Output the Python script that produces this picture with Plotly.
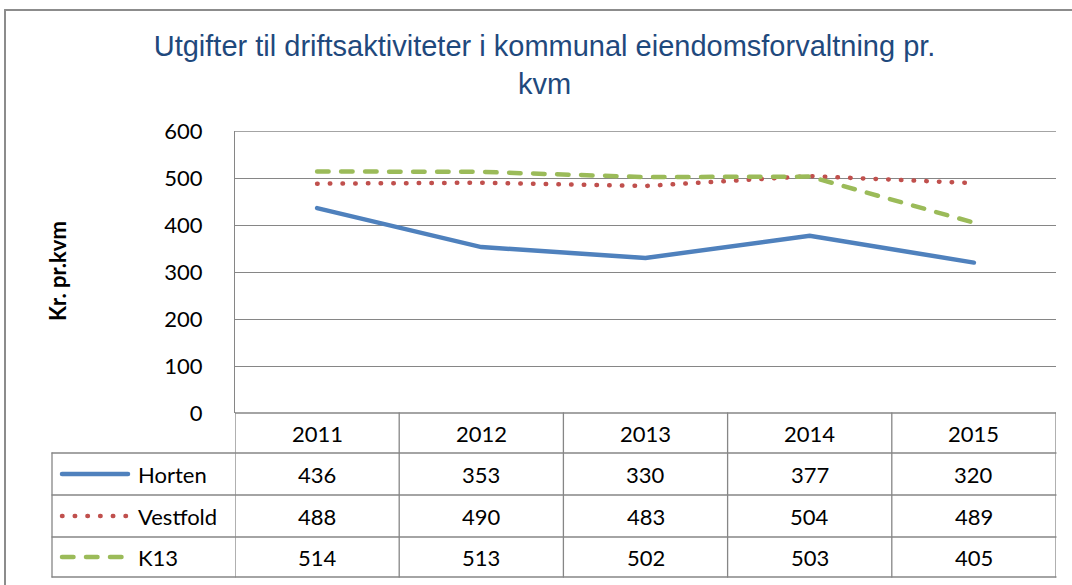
import plotly.graph_objects as go

years = ["2011", "2012", "2013", "2014", "2015"]
series_names = ["Horten", "Vestfold", "K13"]
horten = [436, 353, 330, 377, 320]
vestfold = [488, 490, 483, 504, 489]
k13 = [514, 513, 502, 503, 405]
title_text = "Utgifter til driftsaktiviteter i kommunal eiendomsforvaltning pr.<br>kvm"
y_title = "Kr. pr.kvm"
y_max = 600

W, H = 1072, 585
def px(x):
    return x / W
def py(y):
    return 1 - y / H

colors = ["#4F81BD", "#C0504D", "#9BBB59"]
dashes = ["solid", "0.5px,12.2px", "11.5px,12.5px"]
values = [horten, vestfold, k13]

xpos = list(range(len(years)))
fig = go.Figure()
for name, vals, c, d in zip(series_names, values, colors, dashes):
    fig.add_trace(go.Scatter(x=xpos, y=vals, mode="lines", name=name,
                             line=dict(color=c, width=4.5, dash=d),
                             showlegend=False, cliponaxis=False))

grid = "#868686"
font_main = "Lato, 'Open Sans', sans-serif"

fig.update_layout(
    width=W, height=H,
    margin=dict(l=0, r=0, t=0, b=0, autoexpand=False),
    paper_bgcolor="white", plot_bgcolor="white",
    title=dict(text=title_text, x=0.508, xanchor="center", y=py(56), yanchor="middle",
               font=dict(family="Arial, 'Liberation Sans', sans-serif", size=29, color="#1F497D"),
               automargin=False),
    xaxis=dict(domain=[px(235), px(1056)], range=[-0.5, 4.5], showgrid=False,
               showticklabels=False, zeroline=False, showline=False, fixedrange=True,
               automargin=False),
    yaxis=dict(domain=[py(413), py(131)], range=[0, y_max], dtick=100,
               showgrid=True, gridcolor=grid, gridwidth=1.3, zeroline=False,
               showline=True, linecolor=grid, linewidth=1.3,
               ticks="", ticklabelstandoff=27, automargin=False, fixedrange=True,
               tickfont=dict(family=font_main, size=22, color="black")),
)

shapes = []
line_style = dict(color=grid, width=1.3)
# outer chart border (left and top)
shapes.append(dict(type="line", xref="paper", yref="paper", x0=px(5), x1=px(5), y0=py(10), y1=0,
                   line=dict(color="#8c8c8c", width=2)))
shapes.append(dict(type="line", xref="paper", yref="paper", x0=px(5), x1=1, y0=py(10), y1=py(10),
                   line=dict(color="#8c8c8c", width=2)))
# gridline at the top of the value axis
shapes.append(dict(type="line", xref="x", yref="y", x0=-0.5, x1=4.5, y0=y_max, y1=y_max,
                   line=line_style, layer="below"))
row_y = [413, 453, 495, 537, 577]
shapes.append(dict(type="line", xref="x", yref="paper", x0=-0.5, x1=4.5, y0=py(row_y[0]), y1=py(row_y[0]), line=line_style))
for yy in row_y[1:]:
    shapes.append(dict(type="line", xref="paper", yref="paper", x0=px(52), x1=px(1056), y0=py(yy), y1=py(yy), line=line_style))
for i in range(len(years) + 1):
    shapes.append(dict(type="line", xref="x", yref="paper", x0=i - 0.5, x1=i - 0.5,
                       y0=py(row_y[0]), y1=py(row_y[-1]), line=line_style))
shapes.append(dict(type="line", xref="paper", yref="paper", x0=px(52), x1=px(52),
                   y0=py(row_y[1]), y1=py(row_y[-1]), line=line_style))

annotations = []
annotations.append(dict(x=px(57), y=py(271), xref="paper", yref="paper", text="<b>" + y_title + "</b>",
                        textangle=-90, showarrow=False, xanchor="center", yanchor="middle",
                        font=dict(family=font_main, size=22, color="black")))
tfont = dict(family=font_main, size=22, color="black")
for i, yr in enumerate(years):
    annotations.append(dict(x=i, y=py((row_y[0] + row_y[1]) / 2), xref="x", yref="paper",
                            text=yr, showarrow=False, font=tfont, xanchor="center", yanchor="middle"))
for r, (name, vals, c, d) in enumerate(zip(series_names, values, colors, dashes)):
    yc = (row_y[r + 1] + row_y[r + 2]) / 2
    shapes.append(dict(type="line", xref="paper", yref="paper", x0=px(62), x1=px(128),
                       y0=py(yc), y1=py(yc), line=dict(color=c, width=4.5, dash=d)))
    annotations.append(dict(x=px(136), y=py(yc), xref="paper", yref="paper", text=name,
                            showarrow=False, font=tfont, xanchor="left", yanchor="middle"))
    for i, v in enumerate(vals):
        annotations.append(dict(x=i, y=py(yc), xref="x", yref="paper", text=str(v),
                                showarrow=False, font=tfont, xanchor="center", yanchor="middle"))

fig.update_layout(shapes=shapes, annotations=annotations)
css = ("<style>.scatterlayer .js-line, .shapelayer path{stroke-linecap:round !important;}</style>")
fig.write_html("out.html", config={"displayModeBar": False},
               post_script="document.body.style.margin='0px';"
                           "document.head.insertAdjacentHTML('beforeend', '" + css + "');")
